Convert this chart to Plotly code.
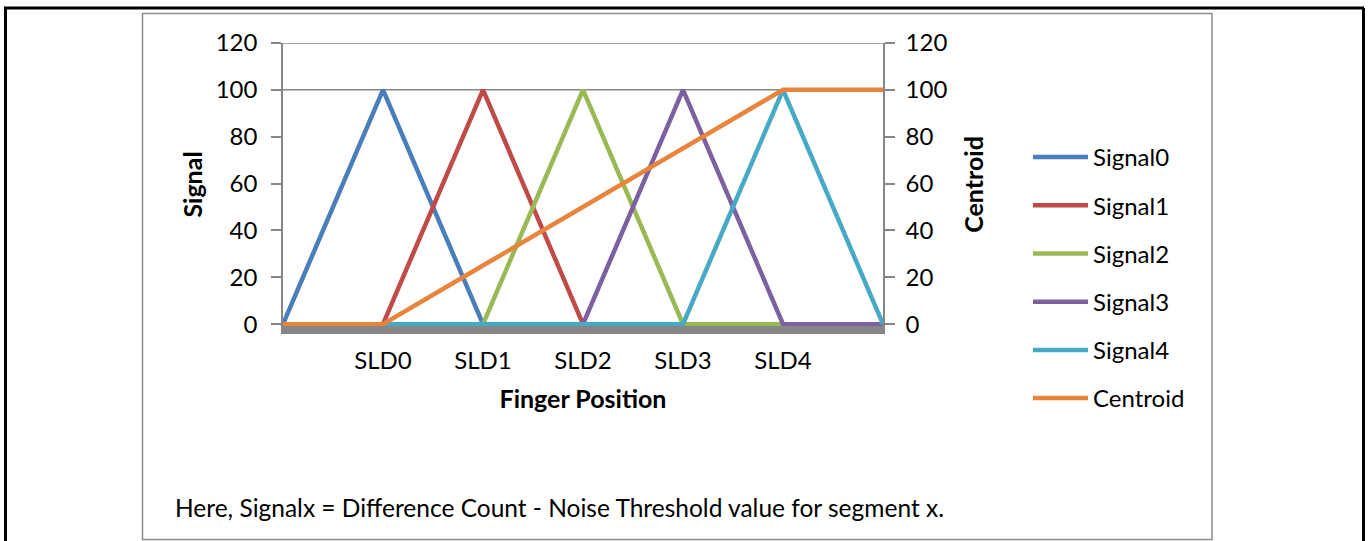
import plotly.graph_objects as go

# ---- data ----
x_pos = [0, 1, 2, 3, 4, 5, 6]
x_labels = ["", "SLD0", "SLD1", "SLD2", "SLD3", "SLD4", ""]
signal0 = [0, 100, 0, 0, 0, 0, 0]
signal1 = [0, 0, 100, 0, 0, 0, 0]
signal2 = [0, 0, 0, 100, 0, 0, 0]
signal3 = [0, 0, 0, 0, 100, 0, 0]
signal4 = [0, 0, 0, 0, 0, 100, 0]
centroid = [0, 0, 25, 50, 75, 100, 100]
y_ticks = [0, 20, 40, 60, 80, 100, 120]

W, H = 1368, 541
FONT = "Lato, Carlito, Calibri, sans-serif"
AX = "#868686"
FS = 24
FS_T = 25

def px(x):
    return x / W

def py(y):
    return 1 - y / H

series = [
    ("Signal0", signal0, "#4A7EBB", "y"),
    ("Signal1", signal1, "#BE4B48", "y"),
    ("Signal2", signal2, "#98B954", "y"),
    ("Signal3", signal3, "#7D60A0", "y"),
    ("Signal4", signal4, "#46AAC5", "y"),
    ("Centroid", centroid, "#E8843C", "y2"),
]

fig = go.Figure()
for name, vals, col, yax in series:
    fig.add_trace(go.Scatter(
        x=x_pos, y=vals, name=name, mode="lines", yaxis=yax,
        legendgroup=name,
        line=dict(color=col, width=4.5),
    ))

plot_top, plot_bot = 43, 326
plot_l, plot_r = 283, 883
yr = [-0.8, 120]

fig.update_layout(
    width=W, height=H,
    margin=dict(l=0, r=0, t=0, b=0, autoexpand=False),
    paper_bgcolor="white", plot_bgcolor="white",
    font=dict(family=FONT, size=FS, color="#000000"),
    xaxis=dict(
        domain=[px(plot_l), px(plot_r)],
        range=[0, 6], automargin=False,
        tickmode="array", tickvals=x_pos[1:-1], ticktext=x_labels[1:-1],
        showgrid=False, zeroline=False,
        showline=True, linecolor=AX, linewidth=8,
        ticks="", ticklabelstandoff=6,
        title=dict(text="<b>Finger Position</b>", standoff=21, font=dict(size=FS_T)),
    ),
    yaxis=dict(
        domain=[py(plot_bot), py(plot_top)],
        range=yr, tickmode="array", tickvals=y_ticks, automargin=False,
        showgrid=False, zeroline=False,
        showline=True, linecolor=AX, linewidth=1.5,
        ticks="outside", ticklen=10, tickcolor=AX, tickwidth=1.5,
        ticklabelstandoff=9,
        title=dict(text="<b>Signal</b>", standoff=6, font=dict(size=FS_T)),
    ),
    yaxis2=dict(
        overlaying="y", side="right", anchor="x", automargin=False,
        range=yr, tickmode="array", tickvals=y_ticks,
        showgrid=False, zeroline=False,
        showline=True, linecolor=AX, linewidth=1.5,
        ticks="outside", ticklen=10, tickcolor=AX, tickwidth=1.5,
        ticklabelstandoff=6,
        title=dict(text="<b>Centroid</b>", standoff=19, font=dict(size=FS_T)),
    ),
    legend=dict(
        x=px(1028), y=py(135), xanchor="left", yanchor="top",
        font=dict(size=FS), tracegroupgap=14, itemwidth=55,
        bgcolor="rgba(0,0,0,0)", borderwidth=0,
    ),
    showlegend=True,
)

# horizontal reference lines at 100 and 120
for v in (100, 120):
    fig.add_shape(type="line", xref="paper", yref="y",
                  x0=px(plot_l), x1=px(plot_r), y0=v, y1=v,
                  line=dict(color=AX, width=1.5), layer="below")

# inner chart border (gray)
fig.add_shape(type="rect", xref="paper", yref="paper",
              x0=px(142.5), x1=px(1212), y0=py(539.5), y1=py(13.5),
              line=dict(color="#8C8C8C", width=1.5), layer="below")
# outer black frame (top, left, right)
fig.add_shape(type="line", xref="paper", yref="paper",
              x0=px(4), x1=px(1364), y0=py(8), y1=py(8),
              line=dict(color="black", width=3))
fig.add_shape(type="line", xref="paper", yref="paper",
              x0=px(5.5), x1=px(5.5), y0=py(8), y1=0,
              line=dict(color="black", width=3))
fig.add_shape(type="line", xref="paper", yref="paper",
              x0=px(1363.5), x1=px(1363.5), y0=py(8), y1=0,
              line=dict(color="black", width=3))

fig.add_annotation(
    text="Here, Signalx = Difference Count - Noise Threshold value for segment x.",
    xref="paper", yref="paper", x=px(173), y=py(507),
    xanchor="left", yanchor="middle", showarrow=False,
    font=dict(size=24.5, family=FONT),
)

fig.write_html("out.html", config={"displayModeBar": False},
               post_script="document.body.style.margin='0';")
